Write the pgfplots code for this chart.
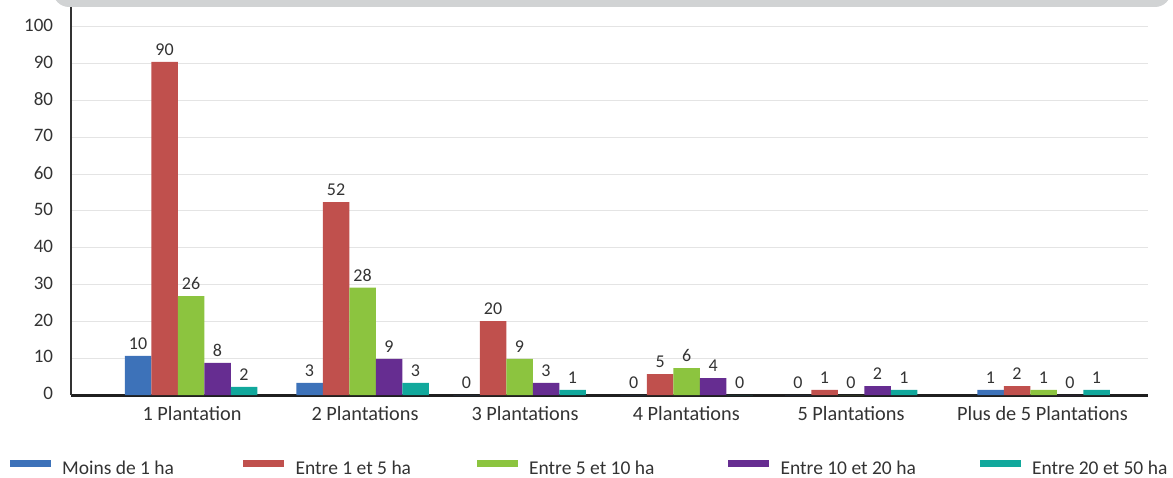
\documentclass[border=0pt]{standalone}
\usepackage{fontspec}
\setmainfont{Carlito}
\usepackage{pgfplots}
\pgfplotsset{compat=1.18}
\definecolor{cblue}{HTML}{3D72B9}
\definecolor{cred}{HTML}{C0504D}
\definecolor{cgreen}{HTML}{8CC43F}
\definecolor{cpurple}{HTML}{662D91}
\definecolor{cteal}{HTML}{11A89C}
\definecolor{ctext}{HTML}{333333}
\definecolor{cgrid}{HTML}{E4E4E4}
\definecolor{cbanner}{HTML}{D1D3D4}
\pgfplotsset{mylegend/.style={legend image code/.code={\fill[##1] (0pt,1pt) rectangle (41pt,8pt);}}}
\begin{document}
\begin{tikzpicture}
\path[use as bounding box] (0,0) rectangle (1173pt,477pt);
\begin{axis}[
  at={(71pt,82pt)}, anchor=south west,
  scale only axis, width=1077pt, height=397.44pt,
  xmin=71, xmax=1148, ymin=0, ymax=108,
  ybar, bar width=26.5,
  axis x line*=bottom, axis y line*=left,
  x axis line style={line width=3pt, color=black!88},
  y axis line style={line width=2.6pt, color=ctext},
  major tick length=0pt,
  ytick={0,10,...,100},
  ymajorgrids, grid style={cgrid, line width=1pt},
  xtick={192,365,525,686.3,851,1042.5},
  xticklabels={1 Plantation,2 Plantations,3 Plantations,4 Plantations,5 Plantations,Plus de 5 Plantations},
  x tick label style={font=\fontsize{20.3}{24}\selectfont, text=ctext, yshift=-7.4pt},
  y tick label style={font=\fontsize{19}{22}\selectfont, text=ctext, xshift=-14.4pt, yshift=1.5pt},
  /pgf/number format/assume math mode=true,
  point meta=explicit,
  nodes near coords,
  every node near coord/.append style={font=\fontsize{18}{21}\selectfont, text=ctext, inner sep=0pt, yshift=6pt},
  legend columns=5,
  mylegend,
  legend style={draw=none, fill=none, inner sep=0pt, outer sep=0pt,
    at={(-0.05701,-0.184)}, anchor=west,
    font=\fontsize{19.5}{23}\selectfont, text=ctext,
    nodes={inner sep=0pt},
    /tikz/every odd column/.append style={column sep=11.5pt},
    /tikz/every even column/.append style={column sep=0pt}},
]
\addplot[fill=cblue, draw=none, bar shift=-53] coordinates {(191,10.6)[10] (362.5,3.3)[3] (519.5,0)[0] (686.7,0)[0] (851,0)[0] (1043.5,1.4)[1]};
\addlegendentry{\makebox[181pt][l]{Moins de 1 ha}}
\addplot[fill=cred, draw=none, bar shift=-26.5] coordinates {(191,90.5)[90] (362.5,52.4)[52] (519.5,20.1)[20] (686.7,5.7)[5] (851,1.4)[1] (1043.5,2.4)[2]};
\addlegendentry{\makebox[181pt][l]{Entre 1 et 5 ha}}
\addplot[fill=cgreen, draw=none, bar shift=0] coordinates {(191,26.9)[26] (362.5,29.2)[28] (519.5,9.8)[9] (686.7,7.3)[6] (851,0)[0] (1043.5,1.4)[1]};
\addlegendentry{\makebox[199pt][l]{Entre 5 et 10 ha}}
\addplot[fill=cpurple, draw=none, bar shift=26.5] coordinates {(191,8.7)[8] (362.5,9.8)[9] (519.5,3.3)[3] (686.7,4.6)[4] (851,2.4)[2] (1043.5,0)[0]};
\addlegendentry{\makebox[199pt][l]{Entre 10 et 20 ha}}
\addplot[fill=cteal, draw=none, bar shift=53] coordinates {(191,2.2)[2] (362.5,3.3)[3] (519.5,1.4)[1] (686.7,0)[0] (851,1.4)[1] (1043.5,1.4)[1]};
\addlegendentry{Entre 20 et 50 ha}
\end{axis}
\fill[cbanner, rounded corners=16pt] (53pt,470pt) rectangle (1171pt,520pt);
\end{tikzpicture}
\end{document}
